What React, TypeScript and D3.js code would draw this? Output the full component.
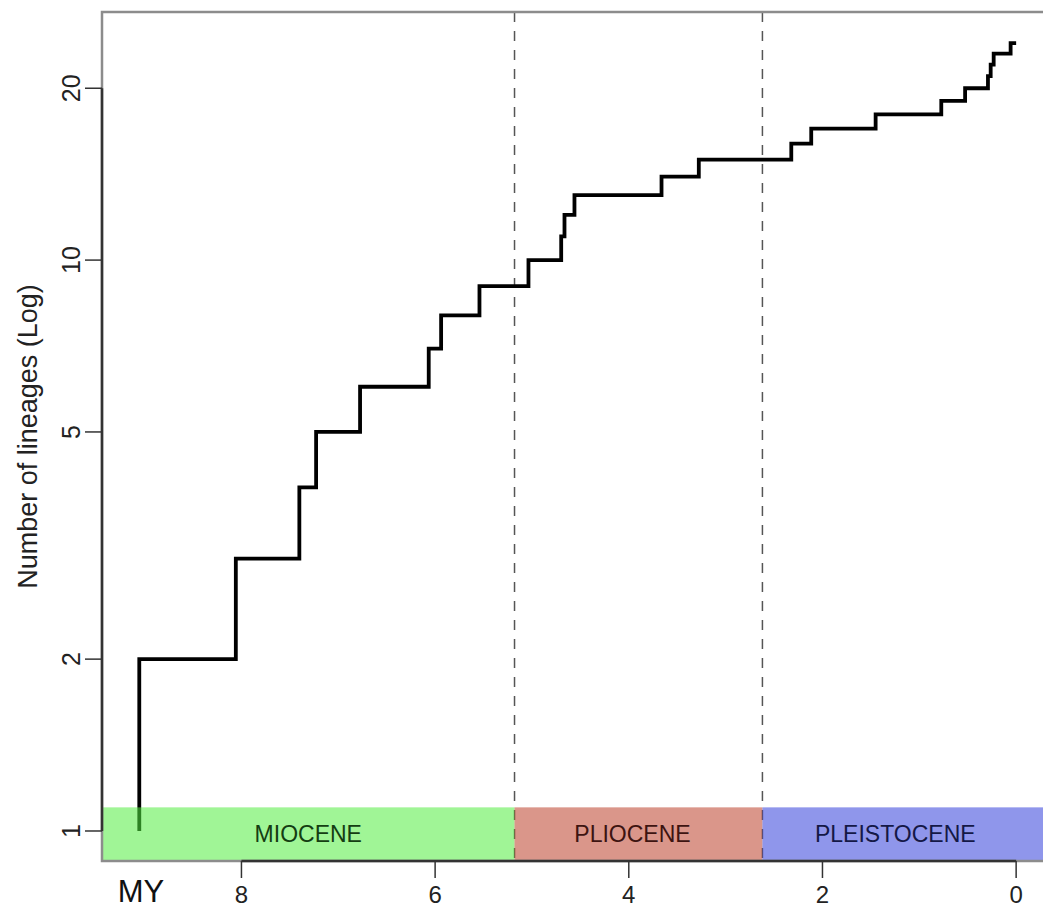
import React from "react";
import * as d3 from "d3";

// lineage-through-time data: times (MY before present) at which a new lineage appears
const branchTimes = [
  9.055, 9.055, 8.058, 7.402, 7.229, 6.775, 6.066, 5.938, 5.542, 5.036, 4.698,
  4.664, 4.561, 3.662, 3.277, 2.322, 2.116, 1.451, 0.773, 0.527, 0.291, 0.263,
  0.232, 0.057, 0,
];
const lineageCounts = [
  1, 2, 3, 4, 5, 6, 7, 8, 9, 10, 11, 12, 13, 14, 15, 16, 17, 18, 19, 20, 21,
  22, 23, 24, 24,
];

const epochNames = ["MIOCENE", "PLIOCENE", "PLEISTOCENE"];
const epochStart = [9.44, 5.18, 2.62];
const epochEnd = [5.18, 2.62, 0];
const epochFill = ["#52ed40", "#bc402a", "#3340db"];
const epochText = ["#143d12", "#3d1411", "#141846"];
const boundaries = [5.18, 2.62];

const xTicks = [8, 6, 4, 2, 0];
const yTicks = [1, 2, 5, 10, 20];

const W = 1043;
const H = 913;
const margin = { top: 12, right: -8, bottom: 52, left: 102 };

export default function App() {
  const x = d3
    .scaleLinear()
    .domain([9.44, -0.36])
    .range([margin.left, W - margin.right]);
  const y = d3
    .scaleLog()
    .domain([0.886, 27.2])
    .range([H - margin.bottom, margin.top]);

  const pts: [number, number][] = branchTimes.map((t, i) => [t, lineageCounts[i]]);
  const line = d3
    .line<[number, number]>()
    .x((d) => x(d[0]))
    .y((d) => y(d[1]))
    .curve(d3.curveStepAfter);

  const bottom = H - margin.bottom;
  const bandTop = y(1.1);
  const font = "'Liberation Sans', Arial, sans-serif";

  return (
    <svg
      width={W}
      height={H}
      style={{ position: "absolute", left: 0, top: 0, background: "#fff" }}
    >
      <defs>
        <clipPath id="plot">
          <rect x={margin.left} y={margin.top} width={W - margin.left - margin.right} height={bottom - margin.top} />
        </clipPath>
      </defs>

      <g clipPath="url(#plot)">
        {/* period boundaries */}
        {boundaries.map((b) => (
          <line
            key={b}
            x1={x(b)}
            x2={x(b)}
            y1={margin.top}
            y2={bottom}
            stroke="#555"
            strokeWidth={1.5}
            strokeDasharray="10,9"
          />
        ))}

        <path d={line(pts) || ""} fill="none" stroke="#000" strokeWidth={3.8} />

        {/* epoch bands drawn over the line, semi-transparent */}
        {epochNames.map((n, i) => (
          <rect
            key={n}
            x={x(epochStart[i])}
            y={bandTop}
            width={x(epochEnd[i]) - x(epochStart[i]) + (i === 2 ? 60 : 0)}
            height={bottom - bandTop}
            fill={epochFill[i]}
            fillOpacity={0.55}
          />
        ))}
        {epochNames.map((n, i) => (
          <text
            key={n}
            x={(x(epochStart[i]) + x(epochEnd[i])) / 2 + (i === 1 ? -6 : i === 2 ? 6 : 0)}
            y={(bandTop + bottom) / 2 + 8}
            textAnchor="middle"
            fontFamily={font}
            fontSize={23}
            fill={epochText[i]}
            transform=""
            style={{ fontStretch: "condensed" }}
          >
            {n}
          </text>
        ))}
      </g>

      {/* box */}
      <rect
        x={margin.left}
        y={margin.top}
        width={W - margin.left - margin.right}
        height={bottom - margin.top}
        fill="none"
        stroke="#8c8c8c"
        strokeWidth={2.5}
      />

      {/* y axis */}
      <line x1={margin.left} x2={margin.left} y1={y(1)} y2={y(20)} stroke="#333" strokeWidth={2.5} />
      {yTicks.map((t) => (
        <g key={t}>
          <line x1={margin.left - 17} x2={margin.left} y1={y(t)} y2={y(t)} stroke="#333" strokeWidth={1.5} />
          <text
            transform={`translate(80,${y(t)}) rotate(-90)`}
            textAnchor="middle"
            fontFamily={font}
            fontSize={25}
            fill="#222"
          >
            {t}
          </text>
        </g>
      ))}
      <text
        transform={`translate(37,${(margin.top + bottom) / 2}) rotate(-90)`}
        textAnchor="middle"
        fontFamily={font}
        fontSize={27}
        fill="#222"
      >
        Number of lineages (Log)
      </text>

      {/* x axis */}
      <line x1={x(8)} x2={x(0)} y1={bottom} y2={bottom} stroke="#333" strokeWidth={2.5} />
      {xTicks.map((t) => (
        <g key={t}>
          <line x1={x(t)} x2={x(t)} y1={bottom} y2={bottom + 17} stroke="#333" strokeWidth={1.5} />
          <text x={x(t)} y={903} textAnchor="middle" fontFamily={font} fontSize={24} fill="#222">
            {t}
          </text>
        </g>
      ))}
      <text x={141} y={902} textAnchor="middle" fontFamily={font} fontSize={31} fill="#111">
        MY
      </text>
    </svg>
  );
}
